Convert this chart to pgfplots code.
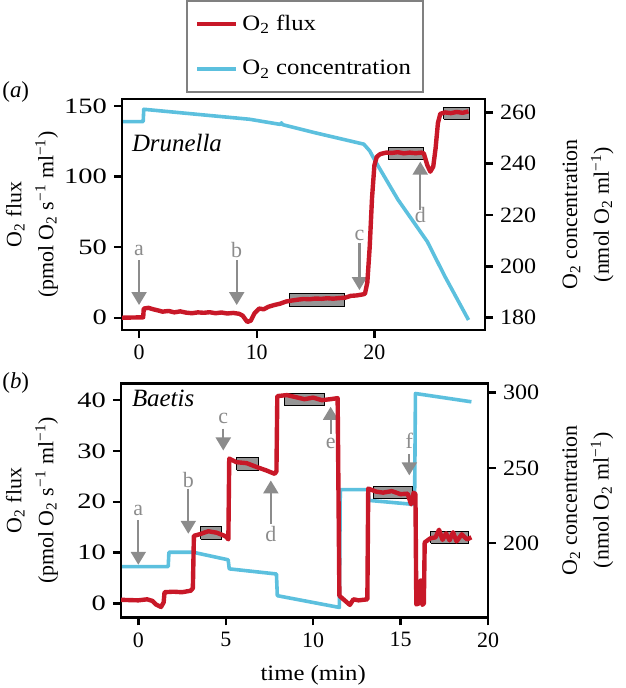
\documentclass[border=0pt]{standalone}
\usepackage{pgfplots}
\pgfplotsset{compat=1.18}
\usepackage{fontspec}
\setmainfont{Liberation Serif}
\newfontfamily\wideA{Liberation Serif}[FakeStretch=1.3]
\newfontfamily\wideB{Liberation Serif}[FakeStretch=1.1]
\newfontfamily\wideC{Liberation Serif}[FakeStretch=1.13]
\usetikzlibrary{arrows.meta}

\definecolor{fluxred}{RGB}{200,24,40}
\definecolor{conccyan}{RGB}{92,192,222}
\definecolor{arrgray}{RGB}{140,140,140}
\definecolor{boxgray}{RGB}{150,150,150}

\pgfplotsset{
  panel/.style={
    scale only axis,
    tick align=outside,
    major tick length=4bp,
    major tick style={black, line width=1.2bp},
    axis line style={line width=1.4bp},
    ticklabel style={font=\fontsize{11}{13}\selectfont},
    /pgf/number format/assume math mode=true,
    label style={font=\fontsize{11}{16}\selectfont, align=center},
  },
  leftpanel/.style={panel, yticklabel style={font=\fontsize{11}{13}\wideA}},
  rightpanel/.style={panel, yticklabel style={font=\fontsize{11}{13}\wideB}},
  fluxline/.style={fluxred, line width=2.2bp, line join=round},
  concline/.style={conccyan, line width=1.8bp, line join=round},
  arr/.style={forget plot, draw=arrgray, line width=1.1bp, -{Triangle[width=7.5bp,length=6.5bp]}},
  pbox/.style={forget plot, fill=boxgray, draw=black, line width=0.5bp},
}
\tikzset{lab/.style={text=arrgray, font=\fontsize{11}{13}\selectfont}}

\newcommand{\fluxlabel}{O\textsubscript{2} flux\\(pmol O\textsubscript{2} s\textsuperscript{−1} ml\textsuperscript{−1})}
\newcommand{\conclabel}{O\textsubscript{2} concentration\\(nmol O\textsubscript{2} ml\textsuperscript{−1})}

\begin{document}
\begin{tikzpicture}
\useasboundingbox (0,0) rectangle (313bp,-344bp);

% ---------- (a) Drunella ----------
\begin{axis}[rightpanel,
  at={(61bp,-49.5bp)}, anchor=north west, width=181.5bp, height=115.5bp,
  xmin=-1.45, xmax=29.4, ymin=175.2, ymax=265.2,
  axis x line=none, axis y line*=right,
  ytick={180,200,...,260},
  ylabel={\conclabel},
  ylabel style={at={(axis description cs:1.284,0.5)}, anchor=center},
]
\addplot[concline] coordinates {
  (-1.45,256.4) (0.35,256.4) (0.4,261.2) (2,260.5) (5,259.2) (9.4,257.3)
  (12,255.3) (12.1,255.9) (12.2,255.2) (15,252) (19.1,247.6) (19.6,245)
  (20.1,240.8) (22,226) (24.5,209.6) (26,196) (28,179.1)
};
\end{axis}

\begin{axis}[leftpanel,
  at={(61bp,-49.5bp)}, anchor=north west, width=181.5bp, height=115.5bp,
  xmin=-1.45, xmax=29.4, ymin=-8.7, ymax=155,
  tick pos=left,
  xtick={0,10,20}, ytick={0,50,100,150},
  ylabel={\fluxlabel},
  ylabel style={at={(axis description cs:-0.248,0.5)}, anchor=center},
  legend style={at={(axis description cs:0.1763,1.4286)}, anchor=north west,
    draw=gray, line width=1bp, font=\fontsize{11}{13}\wideC,
    inner xsep=4bp, inner ysep=5bp, row sep=9.5bp},
  legend cell align=left,
  legend image code/.code={\draw[#1] (0bp,0bp) -- (19.5bp,0bp);},
]
\addplot[pbox] coordinates {(12.8,7.8) (17.5,7.8) (17.5,17.3) (12.8,17.3) (12.8,7.8)};
\addplot[pbox] coordinates {(21.2,111.8) (24.2,111.8) (24.2,120.5) (21.2,120.5) (21.2,111.8)};
\addplot[pbox] coordinates {(25.9,140.6) (28.05,140.6) (28.05,149) (25.9,149) (25.9,140.6)};
\addplot[arr] coordinates {(0,40.9) (0,9)};
\addplot[arr] coordinates {(8.3,40.9) (8.3,9)};
\addplot[arr] coordinates {(18.73,52.7) (18.73,19.6)};
\addplot[arr] coordinates {(23.9,76.4) (23.9,110.6)};
\node[lab] at (axis cs:0,47.9) {a};
\node[lab] at (axis cs:8.3,47.9) {b};
\node[lab] at (axis cs:18.73,58) {c};
\node[lab] at (axis cs:23.9,72.8) {d};
\addplot[fluxline] coordinates {
  (-1.45,0) (0.35,0.3) (0.4,6.5) (0.8,7) (1.2,6) (1.6,5.2) (2.0,4.3) (2.5,4.8)
  (3,3.8) (3.5,4.5) (4,3.6) (4.5,3.2) (5,3.8) (5.5,3.5) (6,3.9) (6.5,3.2)
  (7,3.7) (7.5,3.0) (8,3.4) (8.5,2.8) (8.8,1.5) (9.2,-3) (9.5,-2) (9.8,3)
  (10.2,6.5) (10.6,6) (11,7.8) (11.5,9) (12,10) (12.5,11.5) (13,12.2)
  (13.5,12.8) (14,13.3) (14.5,13.1) (15,13.6) (15.5,13.4) (16,13.8) (16.5,13.5)
  (17,13.9) (17.5,14.2) (18,15.5) (18.5,15.8) (19,16.5) (19.2,17) (19.4,25)
  (19.6,50) (19.8,85) (20.0,108) (20.2,114) (20.5,116) (21,117) (21.5,116.8)
  (22,117.3) (22.5,116.5) (23,117) (23.5,116.6) (24,117) (24.2,116.5)
  (24.5,108) (24.75,103.5) (25.0,107) (25.2,120) (25.4,138) (25.6,144.5)
  (26,145.5) (26.5,145) (27,145.8) (27.5,145.2) (28,146.2)
};
\addlegendimage{concline}
\legend{O\textsubscript{2} flux, O\textsubscript{2} concentration}
\end{axis}

% ---------- (b) Baetis ----------
\begin{axis}[rightpanel,
  at={(60.5bp,-191.7bp)}, anchor=north west, width=183.5bp, height=117bp,
  xmin=-0.99, xmax=20, ymin=150.8, ymax=306,
  axis x line=none, axis y line*=right,
  ytick={200,250,300},
  ylabel={\conclabel},
  ylabel style={at={(axis description cs:1.272,0.5)}, anchor=center},
]
\addplot[concline] coordinates {
  (-0.99,184.5) (1.71,184.5) (1.75,194) (3.14,194) (5.14,189) (5.2,183)
  (7.9,179.6) (7.95,165.2) (11.5,157.4) (11.55,235.5) (13.14,235.5)
  (13.2,228.4) (15.8,225.7) (15.85,299.3) (19.05,293.8)
};
\end{axis}

\begin{axis}[leftpanel,
  at={(60.5bp,-191.7bp)}, anchor=north west, width=183.5bp, height=117bp,
  xmin=-0.99, xmax=20, ymin=-2.76, ymax=43.3,
  tick pos=left,
  xtick={0,5,...,20}, ytick={0,10,...,40},
  ylabel={\fluxlabel},
  ylabel style={at={(axis description cs:-0.2425,0.5)}, anchor=center},
  xlabel={\wideC time (min)},
  xlabel style={at={(axis description cs:0.5236,-0.245)}, anchor=center},
]
\addplot[pbox] coordinates {(3.58,12.6) (4.77,12.6) (4.77,15.2) (3.58,15.2) (3.58,12.6)};
\addplot[pbox] coordinates {(5.62,26.2) (6.86,26.2) (6.86,28.7) (5.62,28.7) (5.62,26.2)};
\addplot[pbox] coordinates {(8.38,38.9) (10.63,38.9) (10.63,41.4) (8.38,41.4) (8.38,38.9)};
\addplot[pbox] coordinates {(13.47,20.6) (15.68,20.6) (15.68,23) (13.47,23) (13.47,20.6)};
\addplot[pbox] coordinates {(16.73,11.8) (18.9,11.8) (18.9,14.2) (16.73,14.2) (16.73,11.8)};
\addplot[arr] coordinates {(0,16.4) (0,7.6)};
\addplot[arr] coordinates {(2.86,22.6) (2.86,13.7)};
\addplot[arr] coordinates {(4.86,34.4) (4.86,30.1)};
\addplot[arr] coordinates {(7.58,15.7) (7.58,24.2)};
\addplot[arr] coordinates {(11.0,33.4) (11.0,38.7)};
\addplot[arr] coordinates {(15.5,29.4) (15.5,25.2)};
\node[lab] at (axis cs:0,18.3) {a};
\node[lab] at (axis cs:2.86,24.2) {b};
\node[lab] at (axis cs:4.86,36.4) {c};
\node[lab] at (axis cs:7.58,13.7) {d};
\node[lab] at (axis cs:11.0,31.4) {e};
\node[lab] at (axis cs:15.5,32.1) {f};
\addplot[fluxline] coordinates {
  (-0.99,0.7) (0,0.6) (0.5,0.8) (0.8,0.5) (1.0,-0.2) (1.3,-0.7) (1.45,0.2)
  (1.5,2.2) (2,2.3) (2.5,2.2) (3.0,2.5) (3.12,3) (3.18,13.3) (3.5,13.6)
  (4,14.2) (4.5,13.9) (5.0,13.2) (5.15,12.6) (5.2,28.5) (5.6,27.8) (6.2,27.6)
  (6.8,26.8) (7.3,26.2) (7.8,25.5) (7.9,26) (7.95,40.8) (8.5,41) (9,40.6)
  (9.5,40.2) (10,40.5) (10.5,40) (11,40.2) (11.4,40.4) (11.5,1.5) (11.8,0.6)
  (12.1,-0.3) (12.3,0.8) (12.6,0.6) (13.1,0.8) (13.15,22.6) (13.6,22)
  (14,21.8) (14.5,22.1) (15,21.5) (15.4,21.6) (15.6,19.5) (15.75,21.8)
  (15.85,21.5) (15.9,-0.2) (16.05,0) (16.15,4.5) (16.25,-0.3) (16.33,0)
  (16.38,12) (16.7,12.8) (17,13) (17.2,14.5) (17.4,12.5) (17.6,13.8)
  (17.8,12.4) (18,14) (18.2,12.2) (18.5,13.6) (18.8,12.6) (19.05,13)
};
\end{axis}

\node[anchor=base west, inner sep=0pt, font=\fontsize{11.5}{13}\selectfont] at (1bp,-48.5bp) {(\textit{a})};
\node[anchor=base west, inner sep=0pt, font=\fontsize{11.5}{13}\selectfont] at (1bp,-194bp) {(\textit{b})};
\node[anchor=base west, inner sep=0pt, font=\fontsize{12.5}{14}\itshape] at (65.8bp,-75.5bp) {Drunella};
\node[anchor=base west, inner sep=0pt, font=\fontsize{12.5}{14}\itshape] at (65.8bp,-203bp) {Baetis};
\end{tikzpicture}
\end{document}
